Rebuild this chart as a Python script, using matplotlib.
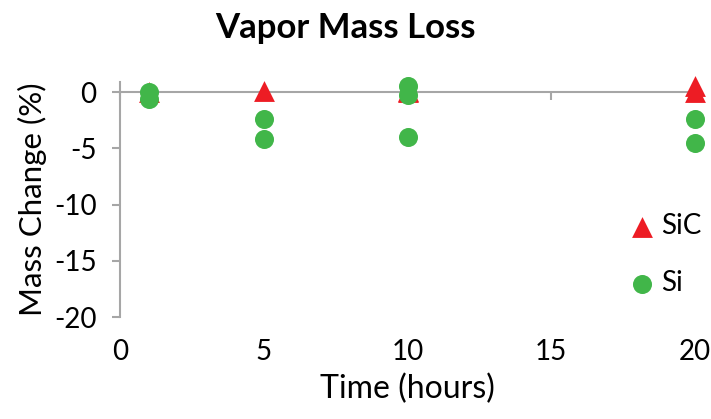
import matplotlib.pyplot as plt

# Vapor exposure results: mass change (%) versus time (hours)
sic_time = [1, 5, 10, 10, 20, 20]
sic_change = [0.0, 0.1, 0.0, 0.1, 0.5, 0.0]

si_time = [1, 1, 5, 5, 10, 10, 10, 20, 20]
si_change = [0.0, -0.6, -2.4, -4.15, 0.5, -0.3, -4.0, -2.4, -4.5]

x_ticks = [0, 5, 10, 15, 20]
y_ticks = [0, -5, -10, -15, -20]

plt.rcParams['font.family'] = ['Lato', 'DejaVu Sans']
plt.rcParams['axes.unicode_minus'] = False

fig = plt.figure(figsize=(7.11, 4.19), dpi=100)
ax = fig.add_axes([120 / 711, 1 - 317 / 419, 575 / 711, 235 / 419])

axis_gray = '#A6A6A6'
red = '#ED1C24'
green = '#41B649'

ax.scatter(sic_time, sic_change, marker='^', s=15 ** 2, color=red,
           linewidths=0, label='SiC', clip_on=False, zorder=3)
ax.scatter(si_time, si_change, marker='o', s=13.7 ** 2, color=green,
           linewidths=0, label='Si', clip_on=False, zorder=4)

ax.set_xlim(0, 20)
ax.set_ylim(-20, 0.9)

# horizontal axis crosses at zero, labels stay at the bottom
ax.spines['bottom'].set_position(('data', 0))
ax.spines['top'].set_visible(False)
ax.spines['right'].set_visible(False)
for side in ['bottom', 'left']:
    ax.spines[side].set_color(axis_gray)
    ax.spines[side].set_linewidth(1.5)

ax.set_xticks(x_ticks)
ax.set_yticks(y_ticks)
ax.tick_params(axis='x', direction='out', length=6, width=1.5,
               color=axis_gray, labelbottom=False)
ax.tick_params(axis='y', direction='out', length=6, width=1.5,
               color=axis_gray, labelsize=20, pad=11)

sec = ax.secondary_xaxis('bottom')
sec.spines['bottom'].set_visible(False)
sec.set_xticks(x_ticks)
sec.tick_params(length=0, labelsize=20, pad=16)
sec.set_xlabel('Time (hours)', fontsize=23, labelpad=6)

ax.set_ylabel('Mass Change (%)', fontsize=22.5, labelpad=5)

# chart title is centred over the whole chart area
fig.text(345 / 711, 1 - 28 / 419, 'Vapor Mass Loss', fontsize=25,
         fontweight='bold', ha='center', va='center')

ax.legend(loc='center left', bbox_to_anchor=(0.835, 0.265), frameon=False,
          fontsize=20, handletextpad=0.1, labelspacing=1.1,
          handlelength=1.2, markerscale=1.0)

fig.savefig('out.png', dpi=100)
